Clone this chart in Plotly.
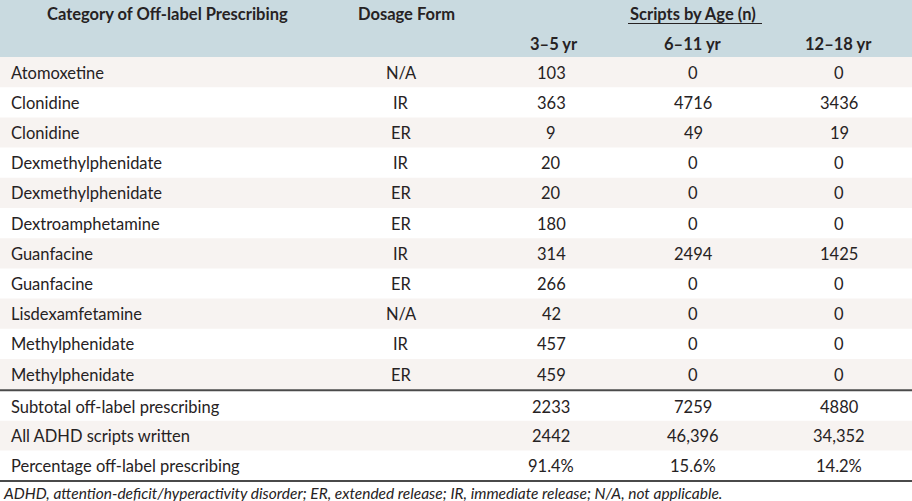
import plotly.graph_objects as go

# ---- data ----
categories = ["Atomoxetine", "Clonidine", "Clonidine", "Dexmethylphenidate", "Dexmethylphenidate",
              "Dextroamphetamine", "Guanfacine", "Guanfacine", "Lisdexamfetamine",
              "Methylphenidate", "Methylphenidate"]
dosage_forms = ["N/A", "IR", "ER", "IR", "ER", "ER", "IR", "ER", "N/A", "IR", "ER"]
age_3_5 = [103, 363, 9, 20, 20, 180, 314, 266, 42, 457, 459]
age_6_11 = [0, 4716, 49, 0, 0, 0, 2494, 0, 0, 0, 0]
age_12_18 = [0, 3436, 19, 0, 0, 0, 1425, 0, 0, 0, 0]

summary_labels = ["Subtotal off-label prescribing", "All ADHD scripts written",
                  "Percentage off-label prescribing"]
summary_3_5 = [2233, 2442, 91.4]
summary_6_11 = [7259, 46396, 15.6]
summary_12_18 = [4880, 34352, 14.2]

col_headers = ["Category of Off-label Prescribing", "Dosage Form"]
group_header = "Scripts by Age (n)"
age_headers = ["3–5 yr", "6–11 yr", "12–18 yr"]
footnote = ("ADHD, attention-deficit/hyperactivity disorder; ER, extended release; "
            "IR, immediate release; N/A, not applicable.")

# ---- style / layout ----
W, H = 912, 501
FONT = "Lato"
TXT = "#262223"
HEADER_FILL = "#c9dae0"
STRIPE = "#f7f3f1"
LINE = "#4a4a4a"
FS = 16.5
FS_HEAD = 16.5

header_h = 57
row_h = 30.2
sum_row_h = 29.6
x_label = 9
x_cols = [401, 551, 693, 839]
x_head = [167, 406]
x_age_head = [554, 693, 838]


def fmt(v, pct=False):
    if pct:
        return f"{v:.1f}%"
    return f"{v:,}" if v >= 10000 else str(v)


fig = go.Figure()
shapes = []
ann = []

def text(x, y, s, anchor="center", bold=False, size=FS, italic=False):
    if bold:
        s = f"<b>{s}</b>"
    if italic:
        s = f"<i>{s}</i>"
    ann.append(dict(x=x, y=y, xref="x", yref="y", text=s, showarrow=False,
                    xanchor=anchor, yanchor="middle",
                    font=dict(family=FONT, size=size, color=TXT)))

# header
shapes.append(dict(type="rect", xref="x", yref="y", x0=0, x1=W, y0=0, y1=header_h,
                   fillcolor=HEADER_FILL, line=dict(width=0), layer="below"))
text(x_head[0], 14, col_headers[0], bold=True, size=FS_HEAD)
text(x_head[1], 14, col_headers[1], bold=True, size=FS_HEAD)
text(x_age_head[1], 14, group_header, bold=True, size=FS_HEAD)
shapes.append(dict(type="line", xref="x", yref="y", x0=628, x1=762, y0=23.5, y1=23.5,
                   line=dict(color=TXT, width=1)))
for xh, h in zip(x_age_head, age_headers):
    text(xh, 44, h, bold=True, size=FS_HEAD)

# body rows
for i, (c, f, a, b, d) in enumerate(zip(categories, dosage_forms, age_3_5, age_6_11, age_12_18)):
    y0 = header_h + i * row_h
    yc = y0 + row_h / 2 + 0.5
    if i % 2 == 0:
        shapes.append(dict(type="rect", xref="x", yref="y", x0=0, x1=W, y0=y0, y1=y0 + row_h,
                           fillcolor=STRIPE, line=dict(width=0), layer="below"))
    text(x_label, yc, c, anchor="left")
    for xc, v in zip(x_cols, [f, fmt(a), fmt(b), fmt(d)]):
        text(xc, yc, v)

body_end = header_h + len(categories) * row_h
shapes.append(dict(type="line", xref="x", yref="y", x0=0, x1=W, y0=body_end + 1, y1=body_end + 1,
                   line=dict(color=LINE, width=2)))

sum_top = body_end + 2
for j, (lab, a, b, d) in enumerate(zip(summary_labels, summary_3_5, summary_6_11, summary_12_18)):
    y0 = sum_top + j * sum_row_h
    yc = y0 + sum_row_h / 2 + 0.5
    if j % 2 == 1:
        shapes.append(dict(type="rect", xref="x", yref="y", x0=0, x1=W, y0=y0, y1=y0 + sum_row_h,
                           fillcolor=STRIPE, line=dict(width=0), layer="below"))
    pct = j == 2
    text(x_label, yc, lab, anchor="left")
    for xc, v in zip(x_cols[1:], [a, b, d]):
        text(xc, yc, fmt(v, pct))

sum_end = sum_top + len(summary_labels) * sum_row_h
shapes.append(dict(type="line", xref="x", yref="y", x0=0, x1=W, y0=sum_end + 1, y1=sum_end + 1,
                   line=dict(color=LINE, width=2)))

text(1, sum_end + 13, footnote, anchor="left", italic=True, size=15.5)

fig.update_layout(
    width=W, height=H, margin=dict(l=0, r=0, t=0, b=0),
    paper_bgcolor="white", plot_bgcolor="white",
    xaxis=dict(range=[0, W], visible=False, fixedrange=True),
    yaxis=dict(range=[H, 0], visible=False, fixedrange=True),
    shapes=shapes, annotations=ann, showlegend=False,
)

fig.write_html("out.html", config={"displayModeBar": False},
               post_script="document.body.style.margin='0';document.body.style.padding='0';")
